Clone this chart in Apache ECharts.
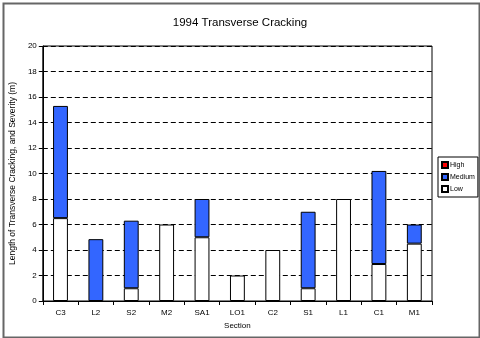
<!DOCTYPE html>
<html>
<head>
<meta charset="utf-8">
<script src="https://cdn.jsdelivr.net/npm/echarts@6/dist/echarts.min.js"></script>
<style>
  html, body { margin: 0; padding: 0; background: #fff; }
  #chart { width: 480px; height: 338px; }
</style>
</head>
<body>
<div id="chart"></div>
<script>
// Transverse cracking length per section, split by severity (m)
const sections = ['C3', 'L2', 'S2', 'M2', 'SA1', 'LO1', 'C2', 'S1', 'L1', 'C1', 'M1'];
const lowSeverity    = [6.5, 0, 1.0, 6.0, 5.0, 2.0, 4.0, 1.0, 8.0, 2.9, 4.5];
const mediumSeverity = [8.8, 4.85, 5.3, 0, 3.0, 0, 0, 6.0, 0, 7.3, 1.5];
const highSeverity   = [0, 0, 0, 0, 0, 0, 0, 0, 0, 0, 0];
const yTicks = [0, 2, 4, 6, 8, 10, 12, 14, 16, 18, 20];

const chart = echarts.init(document.getElementById('chart'), null, { renderer: 'canvas' });

const font = 'Arial, "Liberation Sans", sans-serif';
// empty segments are skipped so they leave no border line on the stack
const segs = arr => arr.map(v => (v === 0 ? '-' : v));

function severityBar(name, values, color) {
  return {
    type: 'bar', stack: 'sev', name, barWidth: '42%',
    data: segs(values),
    itemStyle: { color, borderColor: '#000', borderWidth: 1 }
  };
}

chart.setOption({
  animation: false,
  backgroundColor: '#fff',
  graphic: [{
    type: 'rect', left: 1, top: 1,
    shape: { width: 476, height: 334 },
    style: { fill: 'none', stroke: '#666', lineWidth: 2 }
  }],
  title: {
    text: '1994 Transverse Cracking', left: 'center', top: 12,
    textStyle: { fontFamily: font, fontSize: 11.5, fontWeight: 'normal', color: '#000' }
  },
  legend: {
    orient: 'vertical', left: 438, top: 157,
    data: ['High', 'Medium', 'Low'],
    itemWidth: 6, itemHeight: 6, itemGap: 4,
    padding: [4, 3, 4, 3],
    borderColor: '#000', borderWidth: 1,
    icon: 'rect',
    textStyle: { fontFamily: font, fontSize: 7, color: '#000', padding: [0, 0, 0, -3] }
  },
  grid: {
    left: 38, right: 48, top: 46, bottom: 37,
    show: true, borderColor: '#000', borderWidth: 1, backgroundColor: '#fff'
  },
  xAxis: {
    type: 'category', data: sections,
    name: 'Section', nameLocation: 'middle', nameGap: 21,
    nameTextStyle: { fontFamily: font, fontSize: 8, fontWeight: 'normal', color: '#000' },
    axisLine: { lineStyle: { color: '#000', width: 1 } },
    axisTick: { show: true, length: 4, inside: false, lineStyle: { color: '#000' } },
    axisLabel: { fontFamily: font, fontSize: 8, color: '#000', margin: 8 }
  },
  yAxis: {
    type: 'value', min: 0, max: yTicks[yTicks.length - 1], interval: 2,
    name: 'Length of Transverse Cracking, and Severity (m)',
    nameLocation: 'middle', nameGap: 23, nameRotate: 90,
    nameTextStyle: { fontFamily: font, fontSize: 8.5, fontWeight: 'normal', color: '#000' },
    axisLine: { show: true, lineStyle: { color: '#000', width: 1 } },
    axisTick: { show: true, length: 4, lineStyle: { color: '#000' } },
    axisLabel: { fontFamily: font, fontSize: 8, color: '#000', margin: 6 },
    splitLine: { show: true, lineStyle: { color: '#000', type: [5, 3], width: 1 } }
  },
  series: [
    severityBar('Low', lowSeverity, '#fff'),
    severityBar('Medium', mediumSeverity, '#3366FF'),
    severityBar('High', highSeverity, '#FF0000')
  ]
});
</script>
</body>
</html>
